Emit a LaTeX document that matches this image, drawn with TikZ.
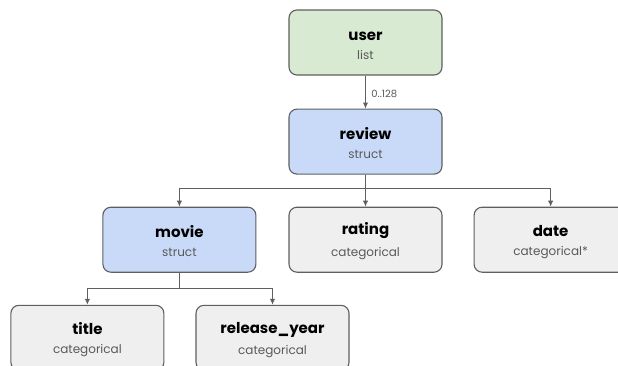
\documentclass[tikz,border=0pt]{standalone}
\usepackage{fontspec}
\setmainfont{Poppins}
\usetikzlibrary{arrows.meta,positioning}

\definecolor{listgreen}{HTML}{D9EAD3}
\definecolor{structblue}{HTML}{C9DAF8}
\definecolor{leafgray}{HTML}{EFEFEF}
\definecolor{edgegray}{HTML}{5F5F5F}
\definecolor{subgray}{HTML}{595959}

\tikzset{
  field/.style={rectangle, rounded corners=8pt, draw=edgegray, line width=1.1pt,
    minimum width=153pt, minimum height=65pt, inner sep=0pt, align=center, text=black},
  listbox/.style={field, fill=listgreen},
  structbox/.style={field, fill=structblue},
  leafbox/.style={field, fill=leafgray},
  link/.style={draw=edgegray, line width=1.1pt, -{Latex[length=6pt,width=5.5pt]}}
}
\newcommand{\fieldtext}[2]{{\rule{0pt}{15pt}\fontsize{15}{18}\selectfont\bfseries #1}\\[7pt]{\fontsize{12}{14}\selectfont\color{subgray}#2}}

\begin{document}
\begin{tikzpicture}
  \path[use as bounding box, fill=white] (0,0) rectangle (618pt,-365pt);
  \clip (0,0) rectangle (618pt,-365pt);

  \node[listbox] (user) at (365.5pt,-42.5pt) {\fieldtext{user}{list}};
  \node[structbox, below=33pt of user] (review) {\fieldtext{review}{struct}};
  \node[leafbox, below=32pt of review] (rating) {\fieldtext{rating}{categorical}};
  \node[structbox, left=32pt of rating] (movie) {\fieldtext{movie}{struct}};
  \node[leafbox, right=31pt of rating] (date) {\fieldtext{date}{categorical*}};
  \node[leafbox, below=32pt of movie, xshift=-92pt] (title) {\fieldtext{title}{categorical}};
  \node[leafbox, right=31pt of title] (year) {\fieldtext{release\_year}{categorical}};

  \coordinate[below=14pt of review.south] (reviewfork);
  \coordinate[below=16pt of movie.south] (moviefork);

  \draw[link] (user) -- node[right, xshift=2pt, yshift=-2pt, font=\fontsize{10}{12}\selectfont, text=subgray] {0..128} (review);
  \foreach \kid in {movie,rating,date}
    \draw[link] (review.south) -- (reviewfork) -| (\kid.north);
  \foreach \kid in {title,year}
    \draw[link] (movie.south) -- (moviefork) -| (\kid.north);
\end{tikzpicture}
\end{document}
